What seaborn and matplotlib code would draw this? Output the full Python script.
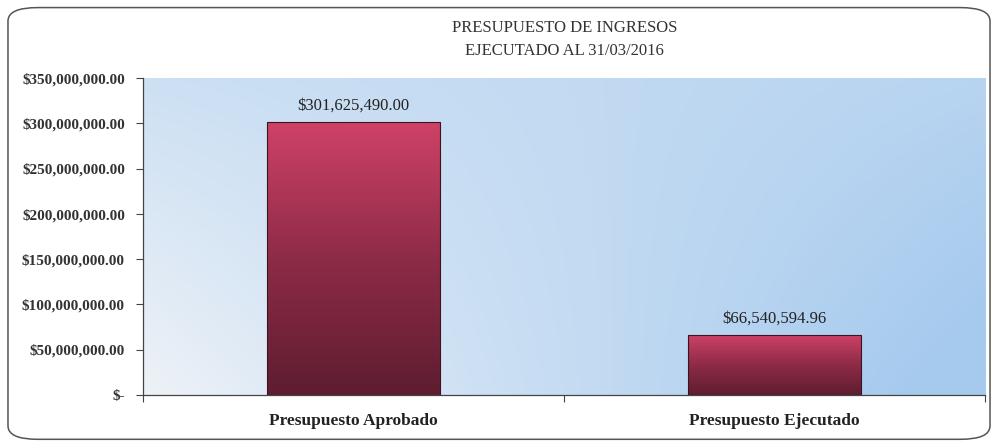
import numpy as np
import pandas as pd
import matplotlib.pyplot as plt
import seaborn as sns
from matplotlib.colors import LinearSegmentedColormap
from matplotlib.patches import FancyBboxPatch
from matplotlib.ticker import FuncFormatter

categorias = ['Presupuesto Aprobado', 'Presupuesto Ejecutado']
montos = [301625490.00, 66540594.96]
etiquetas = ['$301,625,490.00', '$66,540,594.96']
titulo = 'PRESUPUESTO DE INGRESOS\nEJECUTADO AL 31/03/2016'

sns.set_style('white')
plt.rcParams['font.family'] = ['Liberation Serif', 'DejaVu Serif']

df = pd.DataFrame({'categoria': categorias, 'monto': montos})

fig = plt.figure(figsize=(9.98, 4.46), dpi=100)
ax = fig.add_axes([0.1433, 0.1143, 0.8437, 0.7107])

sns.barplot(data=df, x='categoria', y='monto', width=0.41, color='#a0304f',
            edgecolor='#3a1520', linewidth=0.8, ax=ax, zorder=3)

ax.set_ylim(0, 350000000)
ax.set_xlim(-0.5, 1.5)

# fondo degradado azul
yy, xx = np.mgrid[0:1:200j, 0:1:400j]
t = np.clip(0.75 * xx + 0.45 * (1 - yy) * (1 - xx) + 0.35 * xx * yy, 0, 1)
fondo = LinearSegmentedColormap.from_list('fondo', ['#eef2f7', '#c9def3', '#a6caee'])
ax.imshow(t, cmap=fondo, extent=(-0.5, 1.5, 0, 350000000), origin='upper',
          aspect='auto', zorder=0)

# degradado de las barras
barra = LinearSegmentedColormap.from_list('barra', ['#5e1d30', '#8e2b47', '#cf4267'])
grad = np.linspace(0, 1, 256).reshape(-1, 1)
for p in ax.patches:
    x0, y0 = p.get_x(), p.get_y()
    w, h = p.get_width(), p.get_height()
    im = ax.imshow(grad, cmap=barra, extent=(x0, x0 + w, y0, y0 + h),
                   origin='lower', aspect='auto', zorder=3)
    im.set_clip_path(p)
    p.set_facecolor('none')
    p.set_zorder(4)

for i, (m, et) in enumerate(zip(montos, etiquetas)):
    ax.text(i, m + 9000000, et, ha='center', va='bottom', fontsize=12,
            color='#222222')

ax.set_aspect('auto')
ax.set_xlim(-0.5, 1.5)
ax.set_ylim(0, 350000000)

ax.set_yticks(np.arange(0, 350000001, 50000000))
ax.yaxis.set_major_formatter(FuncFormatter(
    lambda v, pos: '$-' if v == 0 else '${:,.2f}'.format(v)))
ax.tick_params(axis='y', left=True, length=5, width=0.8, color='#444444',
               labelsize=11, pad=8)
for lab in ax.get_yticklabels():
    lab.set_fontweight('bold')
    lab.set_color('#333333')

ax.set_xticks([0, 1])
ax.set_xticklabels(categorias, fontsize=12.5, fontweight='bold', color='#222222')
ax.set_xticks([-0.5, 0.5, 1.5], minor=True)
ax.tick_params(axis='x', which='major', length=0, pad=13)
ax.tick_params(axis='x', which='minor', bottom=True, length=5, width=0.8,
               color='#444444')

ax.set_xlabel('')
ax.set_ylabel('')
for s in ['top', 'right']:
    ax.spines[s].set_visible(False)
for s in ['left', 'bottom']:
    ax.spines[s].set_color('#444444')
    ax.spines[s].set_linewidth(0.9)
    ax.spines[s].set_zorder(5)

fig.text(0.566, 0.912, titulo, ha='center', va='center', fontsize=12,
         color='#333333', linespacing=1.55)

borde = FancyBboxPatch((0.008, 0.015), 0.984, 0.968,
                       boxstyle='round,pad=0,rounding_size=0.03',
                       transform=fig.transFigure, fill=False,
                       edgecolor='#555555', linewidth=1.1)
fig.patches.append(borde)

fig.savefig('out.png', dpi=100)
